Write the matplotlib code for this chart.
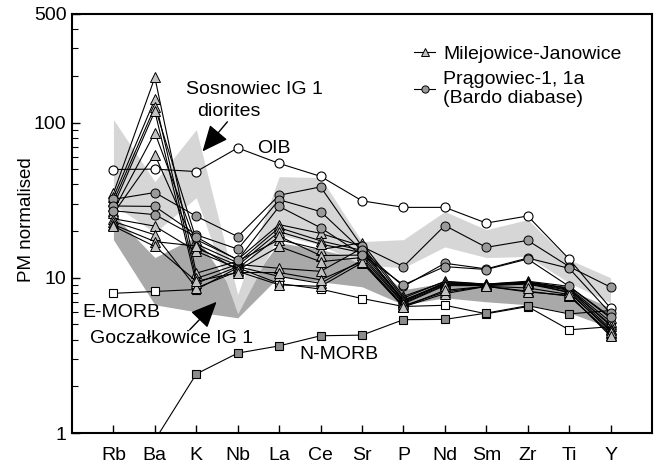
import matplotlib
matplotlib.use("Agg")
import matplotlib.pyplot as plt
from matplotlib.ticker import LogLocator, NullFormatter, FixedLocator, FixedFormatter

plt.rcParams['font.family'] = ['Liberation Sans', 'DejaVu Sans']

elements = ["Rb", "Ba", "K", "Nb", "La", "Ce", "Sr", "P", "Nd", "Sm", "Zr", "Ti", "Y"]

# reference compositions (PM normalised)
oib = [49.8, 50.1, 48.3, 68.6, 54.5, 45.0, 31.3, 28.4, 28.4, 22.5, 25.0, 13.2, 6.37]
e_morb = [7.94, 8.16, 8.4, 11.6, 9.17, 8.45, 7.35, 6.53, 6.65, 5.86, 6.52, 4.62, 4.84]
n_morb = [0.88, 0.90, 2.4, 3.27, 3.64, 4.23, 4.27, 5.37, 5.39, 5.92, 6.61, 5.85, 6.15]

# fields
sosnowiec_upper = [104.6, 41.6, 90.1, 7.77, 44.8, 44.2, 17.1, 17.6, 26.7, 20.4, 23.7, 13.1, 10.0]
sosnowiec_lower = [29.6, 19.5, 32.8, 5.86, 18.9, 16.3, 12.1, 11.6, 15.8, 13.5, 13.7, 9.29, 6.90]
goczalkowice_upper = [25.5, 13.5, 18.4, 7.43, 16.8, 15.2, 13.1, 8.37, 9.29, 9.15, 9.42, 8.37, 6.40]
goczalkowice_lower = [17.6, 6.70, 6.03, 5.52, 10.2, 9.42, 8.75, 6.70, 7.43, 7.00, 6.70, 5.95, 4.76]

# Milejowice-Janowice samples
mj1 = [35, 195, 10.7, 12.8, 17.6, 15.2, 16.8, 7.6, 9.4, 9.1, 9.5, 8.8, 5.5]
mj2 = [33, 141, 9.9, 12.2, 11.5, 11.0, 15.5, 7.0, 9.2, 9.0, 9.3, 8.4, 5.0]
mj3 = [31, 126, 17.6, 13.1, 22.0, 19.3, 16.0, 7.4, 9.5, 9.1, 9.4, 8.6, 5.2]
mj4 = [29, 118, 9.2, 11.8, 10.2, 9.2, 13.0, 6.6, 8.1, 8.8, 8.2, 7.6, 4.4]
mj5 = [27, 86, 16.5, 12.5, 21.0, 17.3, 15.0, 7.2, 9.1, 9.0, 9.4, 8.5, 4.9]
mj6 = [26, 62, 15.5, 12.0, 19.8, 16.5, 14.5, 7.1, 9.3, 9.0, 9.2, 8.3, 4.7]
mj7 = [24, 21.5, 14.8, 11.5, 18.5, 13.9, 14.0, 6.9, 9.0, 9.0, 9.3, 8.0, 4.6]
mj8 = [23, 18.9, 8.6, 11.0, 9.0, 8.8, 12.5, 6.5, 7.9, 8.8, 8.1, 7.7, 4.3]
mj9 = [22, 17.1, 16.0, 11.2, 15.9, 12.7, 13.5, 6.8, 8.9, 8.9, 9.1, 8.1, 4.5]
mj10 = [21.5, 15.9, 9.5, 10.8, 10.8, 9.7, 12.7, 6.5, 8.3, 8.8, 8.6, 7.8, 4.2]

# Pragowiec samples
pr1 = [32, 35.4, 24.9, 18.4, 34.0, 38.5, 15.9, 11.8, 21.7, 15.7, 17.4, 11.8, 8.7]
pr2 = [29, 28.8, 18.9, 15.3, 31.8, 26.7, 15.0, 8.8, 12.4, 11.4, 13.4, 11.5, 5.9]
pr3 = [27, 25.5, 18.3, 13.0, 28.8, 21.0, 14.1, 9.0, 11.8, 11.3, 13.2, 8.8, 5.6]

y_ticks = [1, 10, 100, 500]
y_ticklabels = ["1", "10", "100", "500"]

fig = plt.figure(figsize=(6.58, 4.66), dpi=100)
ax = fig.add_axes([72/658, 33/466, 580/658, 419/466])
ax.set_yscale('log')
x = list(range(len(elements)))

ax.fill_between(x, goczalkowice_lower, goczalkowice_upper, color='#a9a9a9', lw=0, zorder=1)
ax.fill_between(x, sosnowiec_lower, sosnowiec_upper, color='#d6d6d6', lw=0, zorder=1.1)

lw = 0.8
ax.plot(x, e_morb, '-s', color='black', lw=lw, mfc='white', mec='black', ms=6, mew=0.8, zorder=3)
ax.plot(x, n_morb, '-s', color='black', lw=lw, mfc='#8c8c8c', mec='black', ms=6, mew=0.8, zorder=3)
ax.plot(x, oib, '-o', color='black', lw=lw, mfc='white', mec='black', ms=6.5, mew=0.8, zorder=3)

for i, s in enumerate([mj1, mj2, mj3, mj4, mj5, mj6, mj7, mj8, mj9, mj10]):
    ax.plot(x, s, '-^', color='black', lw=lw, mfc='#c2c2c2', mec='black', ms=7, mew=0.7, zorder=4,
            label='Milejowice-Janowice' if i == 0 else None)
for i, s in enumerate([pr1, pr2, pr3]):
    ax.plot(x, s, '-o', color='black', lw=lw, mfc='#9a9a9a', mec='black', ms=6.5, mew=0.7, zorder=5,
            label='Prągowiec-1, 1a\n(Bardo diabase)' if i == 0 else None)

ax.set_xlim(-1, 13)
ax.set_ylim(1, 500)
ax.set_xticks(x)
ax.set_xticklabels(elements)
ax.yaxis.set_major_locator(FixedLocator(y_ticks))
ax.yaxis.set_major_formatter(FixedFormatter(y_ticklabels))
ax.yaxis.set_minor_locator(LogLocator(base=10, subs=range(2, 10)))
ax.yaxis.set_minor_formatter(NullFormatter())
ax.tick_params(axis='both', which='major', direction='in', length=6, width=1, labelsize=14)
ax.tick_params(axis='y', which='minor', direction='in', length=4, width=0.8)
ax.tick_params(axis='x', which='major', pad=10)
ax.tick_params(axis='y', which='major', pad=4)
for sp in ax.spines.values():
    sp.set_linewidth(1.5)
ax.set_ylabel('PM normalised', fontsize=13.5)
ax.yaxis.set_label_coords(-0.064, 0.51)

fs = 14
ax.text(1.74, 163, 'Sosnowiec IG 1', fontsize=fs, ha='left', va='center', zorder=6)
ax.text(2.03, 118, 'diorites', fontsize=fs, ha='left', va='center', zorder=6)
ax.text(3.47, 68, 'OIB', fontsize=fs, ha='left', va='center', zorder=6)
ax.text(-0.74, 5.95, 'E-MORB', fontsize=fs, ha='left', va='center', zorder=6)
ax.text(-0.57, 4.05, 'Goczałkowice IG 1', fontsize=fs, ha='left', va='center', zorder=6)
ax.text(4.49, 3.2, 'N-MORB', fontsize=fs, ha='left', va='center', zorder=6)

arrow = dict(arrowstyle='-|>,head_length=0.9,head_width=0.4', color='black', lw=1, mutation_scale=18,
             shrinkA=0, shrinkB=0)
ax.annotate('', xy=(2.15, 65.1), xytext=(2.75, 101), arrowprops=arrow, zorder=6)
ax.annotate('', xy=(2.49, 7.0), xytext=(1.84, 4.62), arrowprops=arrow, zorder=6)

leg = ax.legend(loc='upper left', bbox_to_anchor=(414/658, 1 - 45/466), bbox_transform=fig.transFigure,
                frameon=False, borderpad=0, borderaxespad=0, handlelength=1.1, handletextpad=0.4,
                labelspacing=0.45, fontsize=14, markerscale=0.8)
for t in leg.get_texts():
    t.set_linespacing(1.1)

fig.savefig('out.png', dpi=100)
